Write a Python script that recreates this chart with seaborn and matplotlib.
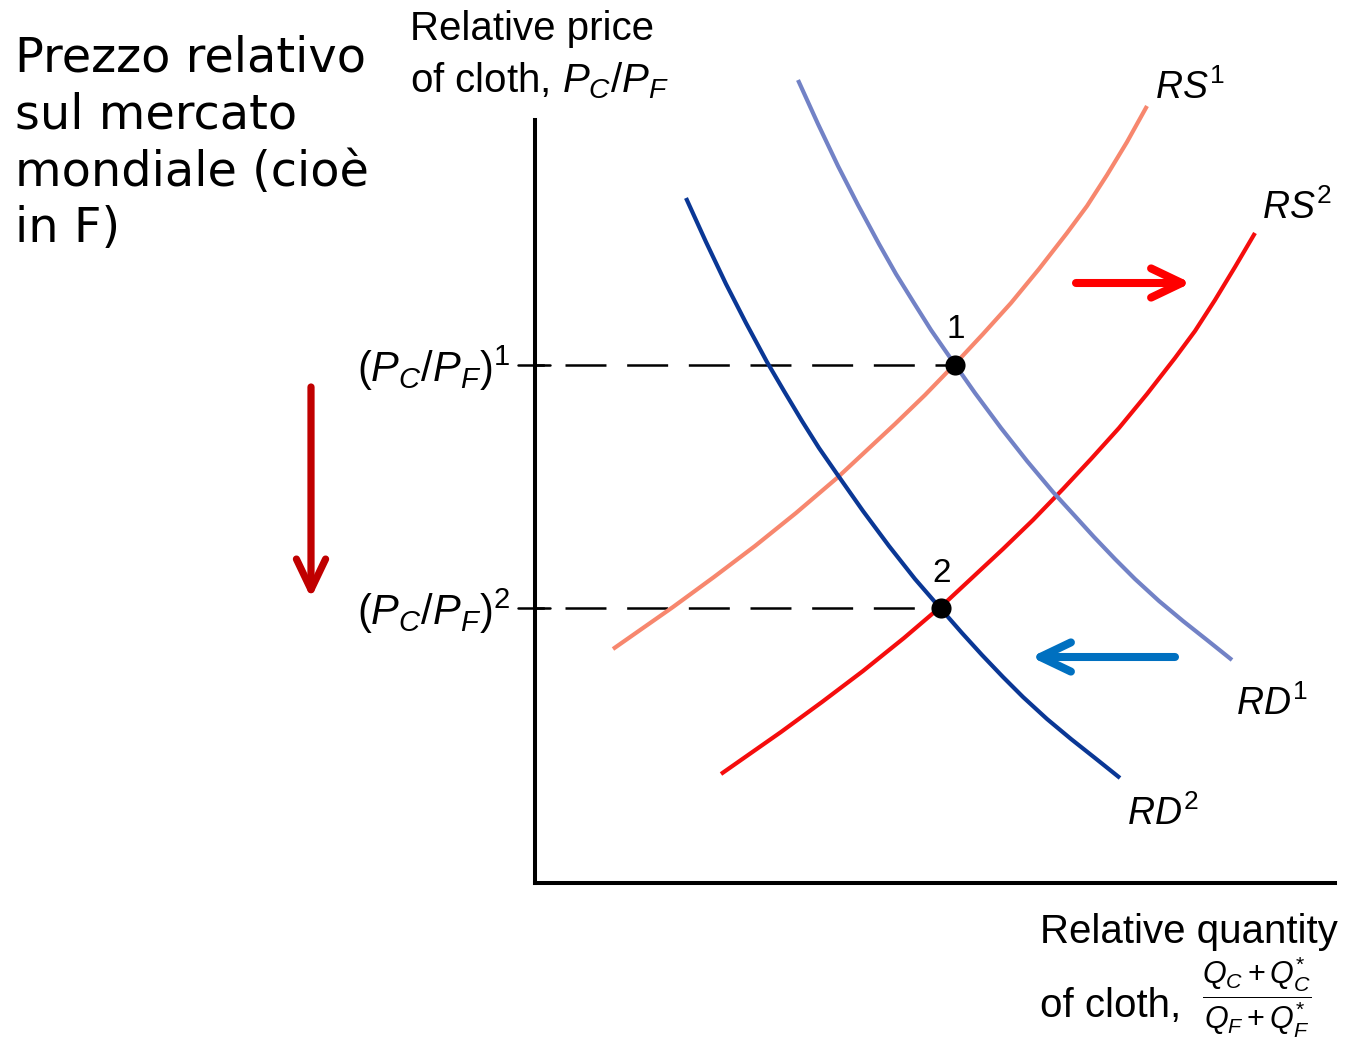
import numpy as np
import pandas as pd
import matplotlib
matplotlib.use("Agg")
import matplotlib.pyplot as plt
import seaborn as sns

# ---------------- data (chart units: q = quantity, p = price) ----------------
rs1_q = [78, 108, 138, 179, 220, 261, 302, 331, 360, 390, 420, 448, 476, 504, 532, 552, 572, 592, 612]
rs1_p = [234, 255, 276, 306, 337, 370, 405, 432, 459, 488, 519, 549, 580, 614, 650, 677, 708, 741, 777]

rs2_q = [186, 216, 246, 287, 328, 369, 410, 439, 468, 498, 528, 556, 584, 612, 640, 660, 680, 700, 720]
rs2_p = [109, 130, 151, 181, 212, 245, 280, 307, 334, 363, 394, 424, 455, 489, 525, 552, 583, 616, 650]

rd1_q = [263, 283, 303, 323, 344, 361, 379, 396, 414, 440, 466, 492, 518, 539, 559, 580, 600, 624, 648, 672, 697]
rd1_p = [803, 759, 717, 678, 639, 609, 580, 553, 527, 490, 455, 422, 391, 368, 346, 324, 304, 282, 262, 243, 223]

rd2_q = [151, 171, 191, 211, 232, 249, 267, 284, 302, 328, 354, 380, 406, 427, 447, 468, 488, 512, 536, 560, 585]
rd2_p = [685, 641, 599, 560, 521, 492, 462, 435, 409, 372, 337, 304, 274, 250, 228, 206, 186, 164, 144, 125, 105]

eq_labels = ["1", "2"]
eq_q = [420, 406]
eq_p = [518, 275]

curve_names = ["RS1", "RS2", "RD1", "RD2"]
curve_labels = [r"$RS^1$", r"$RS^2$", r"$RD^1$", r"$RD^2$"]
curve_colors = ["#F7876E", "#F50D0D", "#7282C6", "#0A3795"]

price_labels = [r"$(P_C/P_F)^1$", r"$(P_C/P_F)^2$"]

# ---------------- styling ----------------
sns.set_theme(style="white")
plt.rcParams["font.family"] = ["Liberation Sans", "DejaVu Sans"]
plt.rcParams["text.color"] = "black"
plt.rcParams["mathtext.fontset"] = "custom"
plt.rcParams["mathtext.rm"] = "Liberation Sans"
plt.rcParams["mathtext.it"] = "Liberation Sans:italic"
plt.rcParams["mathtext.bf"] = "Liberation Sans:bold"
plt.rcParams["lines.scale_dashes"] = False

W, H = 1346, 1038
fig = plt.figure(figsize=(W / 100, H / 100), dpi=100)
# axes origin at the drawn axis corner
ax = fig.add_axes([535 / W, 155 / H, 800 / W, 763 / H])
ax.set_xlim(0, 800)
ax.set_ylim(0, 763)
for s in ["top", "right"]:
    ax.spines[s].set_visible(False)
for s in ["left", "bottom"]:
    ax.spines[s].set_linewidth(2.9)
    ax.spines[s].set_color("black")
ax.set_xticks([])
ax.set_yticks([])
ax.patch.set_alpha(0)

# curves
frames = []
for name, q, p in zip(curve_names, [rs1_q, rs2_q, rd1_q, rd2_q], [rs1_p, rs2_p, rd1_p, rd2_p]):
    frames.append(pd.DataFrame({"q": q, "p": p, "curve": name}))
df = pd.concat(frames, ignore_index=True)
sns.lineplot(data=df, x="q", y="p", hue="curve", palette=dict(zip(curve_names, curve_colors)),
             sort=False, legend=False, lw=3.0, ax=ax, estimator=None)
for line in ax.lines:
    line.set_clip_on(False)
    line.set_solid_capstyle("butt")
    line.set_solid_joinstyle("round")

# guide dashed lines and ticks
for q, p in zip(eq_q, eq_p):
    ax.plot([0, q], [p, p], color="black", lw=1.8, linestyle=(22.8, (29.5, 14.9)), zorder=1)
    ax.plot([-17, 15], [p, p], color="black", lw=1.8, clip_on=False, zorder=1)

# equilibrium points
sns.scatterplot(x=eq_q, y=eq_p, color="black", s=210, ax=ax, zorder=5, linewidth=0, clip_on=False)
for lab, q, p in zip(eq_labels, eq_q, eq_p):
    ax.text(q + 1, p + 35, lab, fontsize=24, ha="center", va="center", color="black")

# helper: pixel placement for text
def ftext(x, y, s, **kw):
    fig.text(x / W, 1 - y / H, s, **kw)

# curve labels
label_pos = [(1155, 99), (1262, 219), (1236, 715), (1127, 825)]
for (x, y), lab in zip(label_pos, curve_labels):
    ftext(x, y, lab, fontsize=27, ha="left", va="baseline")

# price labels on vertical axis
for lab, y in zip(price_labels, [382, 625]):
    ftext(510, y, lab, fontsize=30, ha="right", va="baseline")

# axis titles
ftext(410, 40, "Relative price", fontsize=29, ha="left", va="baseline")
ftext(410, 92, r"of cloth, $P_C/P_F$", fontsize=29, ha="left", va="baseline")
ftext(1040, 943, "Relative quantity", fontsize=29, ha="left", va="baseline")
ftext(1040, 1017, "of cloth,", fontsize=29, ha="left", va="baseline")
ftext(1257, 997, r"$\dfrac{Q_C + Q_C^{*}}{Q_F + Q_F^{*}}$", fontsize=22, ha="center", va="center")

# Italian annotation
it_lines = ["Prezzo relativo", "sul mercato", "mondiale (cioè", "in F)"]
for i, t in enumerate(it_lines):
    ftext(15, 72 + i * 56.8, t, fontsize=34.5, ha="left", va="baseline", family="DejaVu Sans")

# arrows
def arrow(tail, tip, color, lw=5.8):
    ax.annotate("", xy=tip, xytext=tail, xycoords="data", textcoords="data",
                annotation_clip=False,
                arrowprops=dict(arrowstyle="->,head_length=2.2,head_width=1.05", lw=lw, color=color,
                                mutation_scale=10, shrinkA=0, shrinkB=0,
                                capstyle="round", joinstyle="round"))

arrow((541, 600), (656, 600), "#FF0000")
arrow((640, 226), (496, 226), "#0070C0")
arrow((-224, 496), (-224, 285), "#C00000", lw=5.2)

fig.savefig("out.png", dpi=100)
